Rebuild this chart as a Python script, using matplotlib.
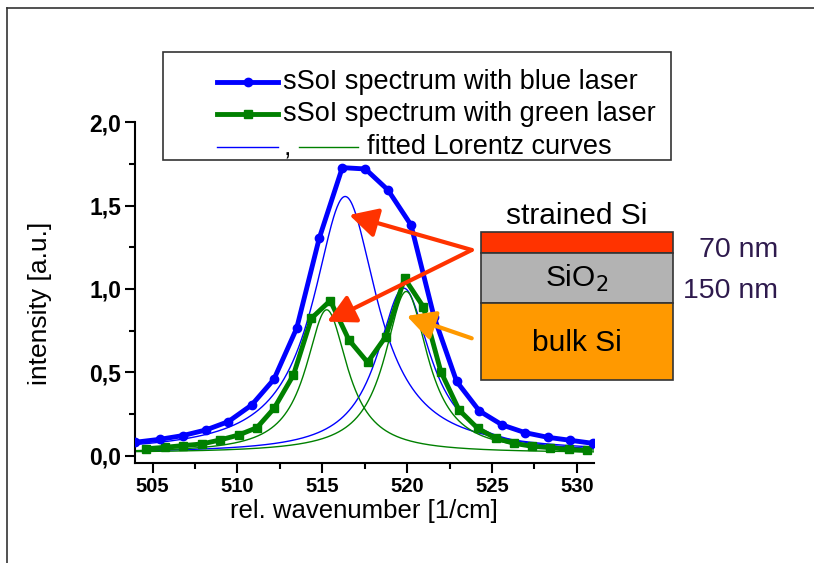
import numpy as np
import matplotlib
matplotlib.use("Agg")
import matplotlib.pyplot as plt
from matplotlib.patches import Rectangle
from matplotlib.lines import Line2D
from matplotlib.ticker import MultipleLocator, FuncFormatter

plt.rcParams['font.family'] = ['Liberation Sans', 'DejaVu Sans']

# ---- data ----
x_blue = [503.96, 505.43, 506.77, 508.14, 509.46, 510.84, 512.15, 513.49, 514.82, 516.18, 517.54,
          518.87, 520.23, 521.59, 522.92, 524.26, 525.61, 526.95, 528.29, 529.62, 530.94]
y_blue = [0.080, 0.098, 0.120, 0.154, 0.204, 0.304, 0.458, 0.764, 1.304, 1.728, 1.720,
          1.594, 1.384, 0.832, 0.445, 0.268, 0.184, 0.138, 0.110, 0.092, 0.074]

x_green = [504.60, 505.73, 506.77, 507.91, 508.97, 510.08, 511.15, 512.16, 513.30, 514.36, 515.47,
           516.57, 517.67, 518.74, 519.85, 520.95, 521.99, 523.06, 524.16, 525.23, 526.30,
           527.38, 528.45, 529.52, 530.59]
y_green = [0.041, 0.050, 0.060, 0.070, 0.094, 0.124, 0.168, 0.284, 0.484, 0.824, 0.930,
           0.694, 0.560, 0.714, 1.064, 0.894, 0.504, 0.274, 0.164, 0.104, 0.074,
           0.056, 0.048, 0.037, 0.031]

# fitted Lorentz parameters (centre, amplitude, half width) and baseline
blue_centres = [516.35, 519.80]
blue_amps = [1.54, 0.99]
blue_widths = [2.3, 1.9]
blue_base = 0.015

green_centres = [515.26, 519.95]
green_amps = [0.86, 0.97]
green_widths = [1.5, 1.55]
green_base = 0.015

x_ticks = [505, 510, 515, 520, 525, 530]
y_ticks = [0.0, 0.5, 1.0, 1.5, 2.0]

legend_labels = ["sSoI spectrum with blue laser", "sSoI spectrum with green laser", "fitted Lorentz curves"]

BLUE = '#0000FF'
GREEN = '#008000'
RED = '#FF3300'
ORANGE = '#FF9900'
GRAY = '#B3B3B3'
PURPLE = '#2E1A4D'

W, H = 814, 563
fig = plt.figure(figsize=(W / 100, H / 100), dpi=100)


def fx(px):
    return px / W


def fy(py):
    return 1 - py / H


ax = fig.add_axes([fx(135), fy(463.3), fx(593.7) - fx(135), fy(122.3) - fy(463.3)])

# ---- fitted Lorentz curves ----
xf = np.linspace(503.9, 531.0, 800)


def lorentz(x, c, a, g):
    return a / (1 + ((x - c) / g) ** 2)


for c, a, g in zip(blue_centres, blue_amps, blue_widths):
    ax.plot(xf, blue_base + lorentz(xf, c, a, g), color=BLUE, lw=1.0, zorder=2)
for c, a, g in zip(green_centres, green_amps, green_widths):
    ax.plot(xf, green_base + lorentz(xf, c, a, g), color=GREEN, lw=1.0, zorder=2)

# ---- measured spectra ----
ax.plot(x_blue, y_blue, color=BLUE, lw=3.5, marker='o', ms=6, zorder=4)
ax.plot(x_green, y_green, color=GREEN, lw=3.5, marker='s', ms=6, zorder=3)

ax.set_xlim(503.96, 531.0)
ax.set_ylim(-0.046, 2.0)
ax.set_xticks(x_ticks)
ax.set_yticks(y_ticks)
ax.xaxis.set_minor_locator(MultipleLocator(2.5))
ax.yaxis.set_minor_locator(MultipleLocator(0.25))
ax.yaxis.set_major_formatter(FuncFormatter(lambda v, p: f"{v:.1f}".replace('.', ',')))
ax.xaxis.set_major_formatter(FuncFormatter(lambda v, p: f"{v:.0f}"))
for s in ['top', 'right']:
    ax.spines[s].set_visible(False)
for s in ['left', 'bottom']:
    ax.spines[s].set_linewidth(1.5)
ax.tick_params(which='major', direction='out', length=7, width=1.5, pad=3)
ax.tick_params(axis='x', which='major', labelsize=14.5)
ax.tick_params(axis='y', which='major', labelsize=16.5)
ax.tick_params(which='minor', direction='out', length=4, width=1.5)
for lab in ax.get_xticklabels() + ax.get_yticklabels():
    lab.set_fontweight('bold')
ax.set_xlabel("rel. wavenumber [1/cm]", fontsize=18.5, labelpad=2)
ax.set_ylabel("intensity [a.u.]", fontsize=19)
ax.yaxis.set_label_coords((52 - 135) / 458.7, 1 - (303 - 122.3) / 341.0)

# ---- arrows ----
arrow_start_red = (523.81, 1.234)
ap_red = dict(arrowstyle='-|>,head_length=0.85,head_width=0.45', mutation_scale=20, lw=3,
              color=RED, shrinkA=0, shrinkB=0)
ax.annotate('', xy=(516.59, 1.444), xytext=arrow_start_red, arrowprops=ap_red,
            annotation_clip=False, zorder=6)
ax.annotate('', xy=(515.29, 0.804), xytext=arrow_start_red, arrowprops=ap_red,
            annotation_clip=False, zorder=6)
ap_or = dict(arrowstyle='-|>,head_length=0.85,head_width=0.45', mutation_scale=20, lw=3,
             color=ORANGE, shrinkA=0, shrinkB=0)
ax.annotate('', xy=(519.98, 0.838), xytext=(523.81, 0.704), arrowprops=ap_or,
            annotation_clip=False, zorder=6)

# ---- layer stack ----
tf = fig.transFigure
x0, x1 = 480.7, 672.7
layers = [(231.7, 252.7, RED), (252.7, 303.3, GRAY), (303.3, 380.0, ORANGE)]
for top, bot, col in layers:
    fig.patches.append(Rectangle((fx(x0), fy(bot)), fx(x1) - fx(x0), fy(top) - fy(bot),
                                 transform=tf, facecolor=col, edgecolor='#333333', lw=1.2))
cx = (x0 + x1) / 2
fig.text(fx(cx), fy(216), "strained Si", ha='center', va='center', fontsize=21.5)
fig.text(fx(cx), fy(278), "SiO$_2$", ha='center', va='center', fontsize=21.5)
fig.text(fx(cx), fy(343), "bulk Si", ha='center', va='center', fontsize=21.5)
fig.text(fx(778), fy(250), "70 nm", ha='right', va='center', fontsize=20.5, color=PURPLE)
fig.text(fx(778), fy(291), "150 nm", ha='right', va='center', fontsize=20.5, color=PURPLE)

# ---- legend (drawn by hand because of the combined third row) ----
fig.patches.append(Rectangle((fx(163.3), fy(160)), fx(671) - fx(163.3), fy(51.7) - fy(160),
                             transform=tf, facecolor='white', edgecolor='#333333', lw=1.2, zorder=5))
rows = [81.7, 114, 146.7]
fig.lines.append(Line2D([fx(217), fx(278)], [fy(rows[0])] * 2, transform=tf, color=BLUE, lw=3.5, zorder=6))
fig.lines.append(Line2D([fx(247.5)], [fy(rows[0])], transform=tf, color=BLUE, marker='o', ms=6, zorder=6))
fig.lines.append(Line2D([fx(217), fx(278)], [fy(rows[1])] * 2, transform=tf, color=GREEN, lw=3.5, zorder=6))
fig.lines.append(Line2D([fx(247.5)], [fy(rows[1])], transform=tf, color=GREEN, marker='s', ms=6, zorder=6))
fig.lines.append(Line2D([fx(217), fx(278)], [fy(rows[2])] * 2, transform=tf, color=BLUE, lw=1.0, zorder=6))
fig.lines.append(Line2D([fx(299), fx(358)], [fy(rows[2])] * 2, transform=tf, color=GREEN, lw=1.0, zorder=6))
fig.text(fx(284), fy(rows[2] + 2), ",", ha='left', va='center', fontsize=19, zorder=7)
for lab, r, x in zip(legend_labels, rows, [283.3, 283.3, 366.7]):
    fig.text(fx(x), fy(r), lab, ha='left', va='center', fontsize=19.5, zorder=7)

# ---- outer frame ----
fig.lines.append(Line2D([fx(6.5), fx(6.5)], [fy(8), 0], transform=tf, color='#333333', lw=1.2))
fig.lines.append(Line2D([fx(6.5), 1], [fy(8), fy(8)], transform=tf, color='#333333', lw=1.2))

fig.savefig("out.png", dpi=100)
